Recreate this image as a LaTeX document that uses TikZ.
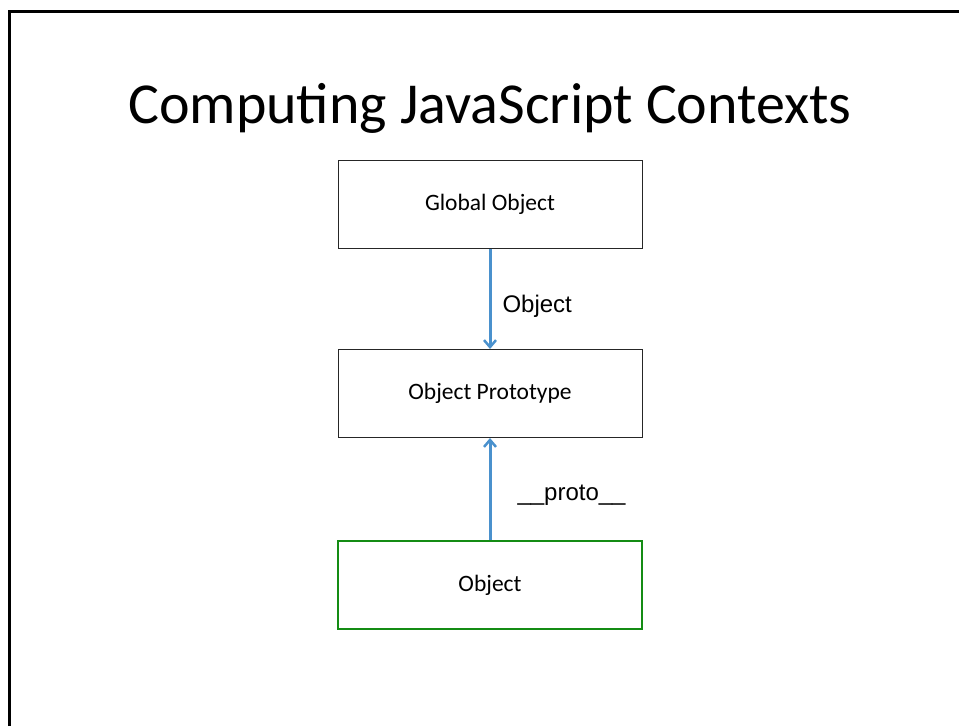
\documentclass[tikz,border=0pt]{standalone}
\usepackage{fontspec}
\setmainfont{Carlito}
\newfontfamily\arialfont{Liberation Sans}
\usetikzlibrary{arrows.meta}
\definecolor{arrowblue}{RGB}{74,145,205}
\definecolor{boxgreen}{RGB}{20,140,20}
\tikzset{
  box/.style={draw=black!85, line width=1pt, minimum width=304pt, minimum height=88pt, inner sep=0pt, font=\fontsize{23.5}{25}\selectfont, fill=white},
  greenbox/.style={box, draw=boxgreen, line width=2pt},
  link/.style={draw=arrowblue, line width=3pt, -{Straight Barb[length=7pt,width=12pt,line width=2.5pt]}},
  lbl/.style={font=\arialfont\fontsize{24}{26}\selectfont, anchor=west, inner sep=0pt}
}
\begin{document}
\begin{tikzpicture}[x=1pt,y=-1pt]
\useasboundingbox (0,0) rectangle (959,726);
\draw[line width=3pt, black] (9,726) -- (9,11) -- (959,11);
\node[font=\fontsize{58}{60}\selectfont, anchor=base] (title) at (490,123) {Computing JavaScript Contexts};
\node[box] (global) at (490,204) {Global Object};
\node[box] (proto) at (490,393.5) {Object Prototype};
\node[greenbox] (obj) at (490,585) {Object};
\draw[link] (global) -- (proto) node[midway, lbl, xshift=11pt, yshift=-8pt] (l1) {Object};
\draw[link] (obj) -- (proto) node[midway, lbl, xshift=26pt, yshift=-6pt] (l2) {\_\_proto\_\_};
\end{tikzpicture}
\end{document}
